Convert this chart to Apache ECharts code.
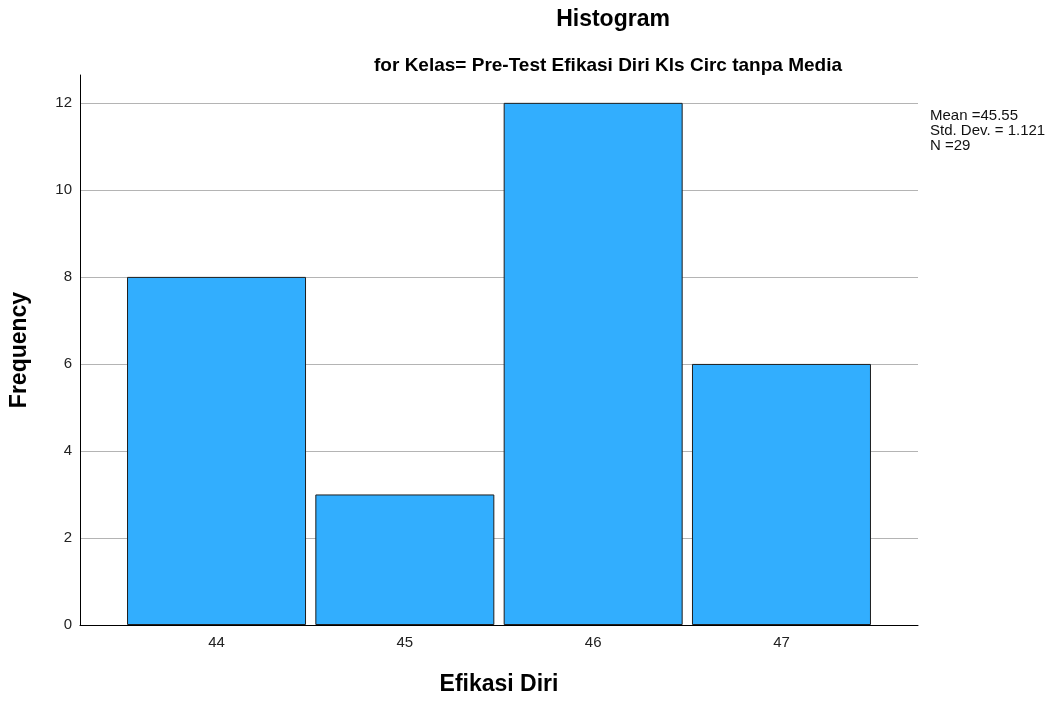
<!DOCTYPE html>
<html><head><meta charset="utf-8">
<script src="https://cdn.jsdelivr.net/npm/echarts@6/dist/echarts.min.js"></script>
<style>html,body{margin:0;padding:0;background:#fff}#c{width:1054px;height:702px}</style>
</head><body><div id="c"></div>
<script>
const binCenters = [44, 45, 46, 47];
const frequencies = [8, 3, 12, 6];
const yTicks = [0, 2, 4, 6, 8, 10, 12];
const statsLines = ['Mean =45.55', 'Std. Dev. = 1.121', 'N =29'];
const titleText = 'Histogram';
const subtitleText = 'for Kelas= Pre-Test Efikasi Diri Kls Circ tanpa Media';
const xName = 'Efikasi Diri';
const yName = 'Frequency';

const font = 'Liberation Sans, Arial, sans-serif';
const chart = echarts.init(document.getElementById('c'), null, {renderer: 'canvas'});
chart.setOption({
  animation: false,
  backgroundColor: '#fff',
  title: [
    {text: titleText, left: 608, top: 3, textAlign: 'center',
     textStyle: {fontFamily: font, fontSize: 23, fontWeight: 'bold', color: '#000'}},
    {text: subtitleText, left: 603, top: 51, textAlign: 'center',
     textStyle: {fontFamily: font, fontSize: 19, fontWeight: 'bold', color: '#000'}}
  ],
  grid: {left: 79, right: 136, top: 75, bottom: 77, containLabel: false},
  xAxis: {
    type: 'value', min: 43.275, max: 47.725,
    name: xName, nameLocation: 'middle', nameGap: 48,
    nameTextStyle: {fontFamily: font, fontSize: 23, fontWeight: 'bold', color: '#000'},
    axisLine: {show: true, lineStyle: {color: '#000', width: 1}},
    axisTick: {show: false, customValues: binCenters},
    axisLabel: {customValues: binCenters, fontFamily: font, fontSize: 15, color: '#222', margin: 10},
    splitLine: {show: false}
  },
  yAxis: {
    type: 'value', min: 0, max: 12.64,
    name: yName, nameLocation: 'middle', nameGap: 49, nameRotate: 90,
    nameTextStyle: {fontFamily: font, fontSize: 23, fontWeight: 'bold', color: '#000'},
    axisLine: {show: true, lineStyle: {color: '#000', width: 1}},
    axisTick: {show: false, customValues: yTicks},
    axisLabel: {customValues: yTicks, fontFamily: font, fontSize: 15, color: '#222', margin: 8},
    splitLine: {show: true, lineStyle: {color: '#b4b4b4', width: 1}}
  },
  series: [{
    type: 'bar',
    data: binCenters.map((c, i) => [c, frequencies[i]]),
    barWidth: 179,
    itemStyle: {color: '#32aefe', borderColor: '#1e1e1e', borderWidth: 1}
  }],
  graphic: [{
    type: 'text', left: 930, top: 108,
    style: {text: statsLines.join('\n'), fontFamily: font, fontSize: 15, lineHeight: 15, fill: '#111'}
  }]
});
</script></body></html>
